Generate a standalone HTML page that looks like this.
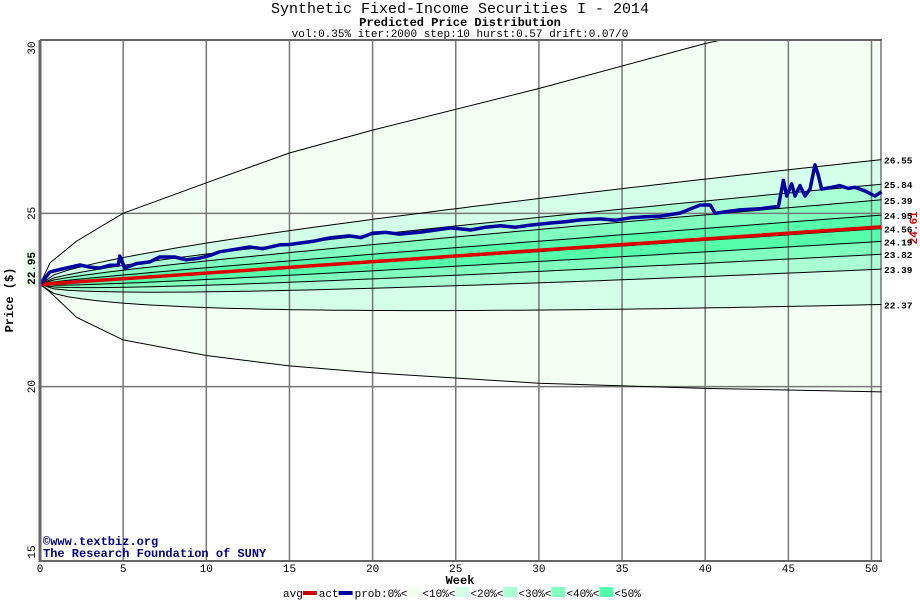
<!DOCTYPE html>
<html><head><meta charset="utf-8"><style>
body{margin:0;background:#fff}
svg{display:block;font-family:"Liberation Mono","DejaVu Sans Mono",monospace}
</style></head><body>
<svg id="c" width="920" height="600" xmlns="http://www.w3.org/2000/svg">
<text x="460" y="13" text-anchor="middle" font-size="15">Synthetic Fixed-Income Securities I - 2014</text>
<text x="460" y="26" text-anchor="middle" font-size="12" font-weight="bold">Predicted Price Distribution</text>
<text x="460" y="37" text-anchor="middle" font-size="11">vol:0.35% iter:2000 step:10 hurst:0.57 drift:0.07/0</text>
<g id="bands"></g>
<g id="grid"></g>
<g id="lines"></g>
<g id="series"></g>
<g id="axes"></g>
<text transform="translate(13,300) rotate(-90)" text-anchor="middle" font-size="12" font-weight="bold">Price ($)</text>
<text x="460" y="584" text-anchor="middle" font-size="12" font-weight="bold">Week</text>
<text x="43" y="545" font-size="12" font-weight="bold" fill="#000080">©www.textbiz.org</text>
<text x="43" y="557" font-size="12" font-weight="bold" fill="#000080">The Research Foundation of SUNY</text>
<g id="legend"></g>
</svg>
<script>
const xTicks=[0,5,10,15,20,25,30,35,40,45,50];
const yTicks=[15,20,25,30];
const startPrice=22.95;
const avgEnd=24.61;
const quantileEnds=[26.55,25.84,25.39,24.95,24.56,24.19,23.82,23.39,22.37];
const outerWeeks=[0,0.6,2.2,5,10,15,20,30,40,50.6];
const outerTop=[22.95,23.57,24.2,25.0,25.88,26.74,27.4,28.6,29.9,31.0];
const outerBottom=[22.95,22.73,22.0,21.35,20.9,20.6,20.4,20.1,19.95,19.85];
const actWeeks=[0,0.6,1.2,2.4,3,3.6,4.2,4.7,4.8,5.1,5.8,6.6,7.2,8.1,8.8,9.6,10.2,10.8,11.6,12.6,13.4,14.4,15,15.6,16.5,17.4,18.6,19.3,20,20.8,21.6,22.9,23.8,24.7,25.3,25.9,26.8,27.7,28.6,29.5,30.7,31.6,32.5,33.7,34.6,35.5,36.4,37.3,38.5,39.7,40.3,40.6,41.3,42.1,43.3,44.4,44.7,44.9,45.2,45.4,45.7,46,46.3,46.6,46.8,47,47.6,48.1,48.6,49,49.6,50.2,50.6];
const actValues=[22.95,23.31,23.38,23.51,23.45,23.42,23.5,23.5,23.77,23.42,23.55,23.6,23.74,23.74,23.66,23.71,23.78,23.89,23.95,24.03,23.98,24.09,24.1,24.14,24.2,24.29,24.35,24.3,24.43,24.45,24.4,24.46,24.52,24.58,24.55,24.52,24.6,24.64,24.6,24.66,24.72,24.76,24.81,24.84,24.8,24.87,24.9,24.92,25.01,25.24,25.24,25.0,25.05,25.1,25.13,25.2,25.95,25.5,25.85,25.5,25.8,25.5,25.7,26.4,26.1,25.7,25.75,25.8,25.72,25.75,25.65,25.5,25.62];
const avgWeeks=[0,50.6];
const avgValues=[22.95,24.61];
const bandColors=["#f4fff4","#d4ffe8","#aaffd4","#80ffbf","#55ffaa"];
const legendLabels=["0%<","<10%<","<20%<","<30%<","<40%<","<50%"];

const X=w=>40+w*16.63, Y=v=>560-(v-15)*34.667;
const NS="http://www.w3.org/2000/svg";
function mk(t,a,p){const e=document.createElementNS(NS,t);for(const k in a)e.setAttribute(k,a[k]);p.appendChild(e);return e;}
const wMax=50.6;
const steps=[];for(let i=0;i<=60;i++)steps.push(wMax*i/60);
function avgAt(w){return avgValues[0]+(avgValues[1]-avgValues[0])*w/wMax;}
function qLine(end){return steps.map(w=>[w,avgAt(w)+(end-avgEnd)*Math.sqrt(w/wMax)]);}
function pts(arr){return arr.map(p=>X(p[0]).toFixed(1)+","+Y(p[1]).toFixed(1)).join(" ");}
const topOuter=outerWeeks.map((w,i)=>[w,outerTop[i]]);
const botOuter=outerWeeks.map((w,i)=>[w,outerBottom[i]]);
const bands=document.getElementById('bands');
const defs=mk('defs',{},document.getElementById('c'));
const cp=mk('clipPath',{id:'plot'},defs);mk('rect',{x:40,y:40,width:842,height:520},cp);
bands.setAttribute('clip-path','url(#plot)');
let p=mk('polygon',{points:pts(topOuter)+" "+pts(botOuter.slice().reverse()),fill:bandColors[0]},bands);

const pairs=[[0,8],[1,7],[2,6],[3,5]];
pairs.forEach((pr,i)=>{const a=qLine(quantileEnds[pr[0]]),b=qLine(quantileEnds[pr[1]]).reverse();
 const e=mk('polygon',{points:pts(a)+" "+pts(b),fill:bandColors[i+1]},bands);
 
 });
const grid=document.getElementById('grid');
xTicks.forEach(t=>{if(t===0)return;const e=mk('line',{x1:X(t),x2:X(t),y1:40,y2:560,stroke:'#777','stroke-width':1.5},grid);
 });
mk('line',{x1:881,x2:881,y1:40,y2:560,stroke:'#777','stroke-width':1.5},grid);
yTicks.forEach(t=>{if(t===15||t===30)return;const e=mk('line',{x1:40,x2:882,y1:Y(t),y2:Y(t),stroke:'#777','stroke-width':1.5},grid);
 });
const lines=document.getElementById('lines');lines.setAttribute('clip-path','url(#plot)');
[topOuter,botOuter].forEach((a,i)=>{const e=mk('polyline',{points:pts(a),fill:'none',stroke:'#000','stroke-width':1},lines);
 });
quantileEnds.forEach((v,i)=>{const e=mk('polyline',{points:pts(qLine(v)),fill:'none',stroke:'#000','stroke-width':1},lines);
 
 const t=mk('text',{x:884,y:Y(v)+4,'font-size':9.5,'font-weight':'bold'},lines.parentNode);t.textContent=v.toFixed(2);
 });
const ser=document.getElementById('series');
let e=mk('polyline',{points:pts(avgWeeks.map((w,i)=>[w,avgValues[i]])),fill:'none',stroke:'#dd0000','stroke-width':3.5},ser);

e=mk('polyline',{points:pts(actWeeks.map((w,i)=>[w,actValues[i]])),fill:'none',stroke:'#0000a0','stroke-width':3.5,'stroke-linejoin':'round'},ser);

const ax=document.getElementById('axes');
mk('line',{x1:40,x2:882,y1:40,y2:40,stroke:'#666','stroke-width':2},ax);
mk('line',{x1:40,x2:40,y1:40,y2:562,stroke:'#666','stroke-width':3},ax);
mk('line',{x1:40,x2:882,y1:561,y2:561,stroke:'#666','stroke-width':2},ax);
xTicks.forEach(t=>{const e=mk('text',{x:X(t),y:572,'text-anchor':'middle','font-size':11},ax);e.textContent=t;
 });
yTicks.forEach(t=>{const y=Math.min(Math.max(Y(t),48),552);const e=mk('text',{transform:`translate(35,${y}) rotate(-90)`,'text-anchor':'middle','font-size':11},ax);e.textContent=t;
 });
mk('rect',{x:24,y:Y(startPrice)-35,width:13,height:37,fill:'#e8ffe8'},ax);
e=mk('text',{transform:`translate(35,${Y(startPrice)-16}) rotate(-90)`,'text-anchor':'middle','font-size':11,'font-weight':'bold'},ax);e.textContent=startPrice.toFixed(2);

e=mk('text',{transform:`translate(917,${Y(avgEnd)+1}) rotate(-90)`,'text-anchor':'middle','font-size':11,'font-weight':'bold',fill:'#dd0000'},ax);e.textContent=avgEnd.toFixed(2);

const lg=document.getElementById('legend');let lx=283;const ly=597;
function lt(s){const t=mk('text',{x:lx,y:ly,'font-size':11},lg);t.textContent=s;lx+=s.length*6.6;return t;}
let t=lt("avg");
mk('rect',{x:lx,y:591,width:14,height:4,fill:'#cc0000'},lg);lx+=16;
t=lt("act");
mk('rect',{x:lx,y:591,width:14,height:4,fill:'#0000a0'},lg);lx+=16;
t=lt("prob:");
legendLabels.forEach((s,i)=>{const tt=lt(s);
 if(i<bandColors.length){const r=mk('rect',{x:lx,y:587,width:14,height:10,fill:bandColors[i]},lg);
 lx+=15;}});
</script>
</body></html>
